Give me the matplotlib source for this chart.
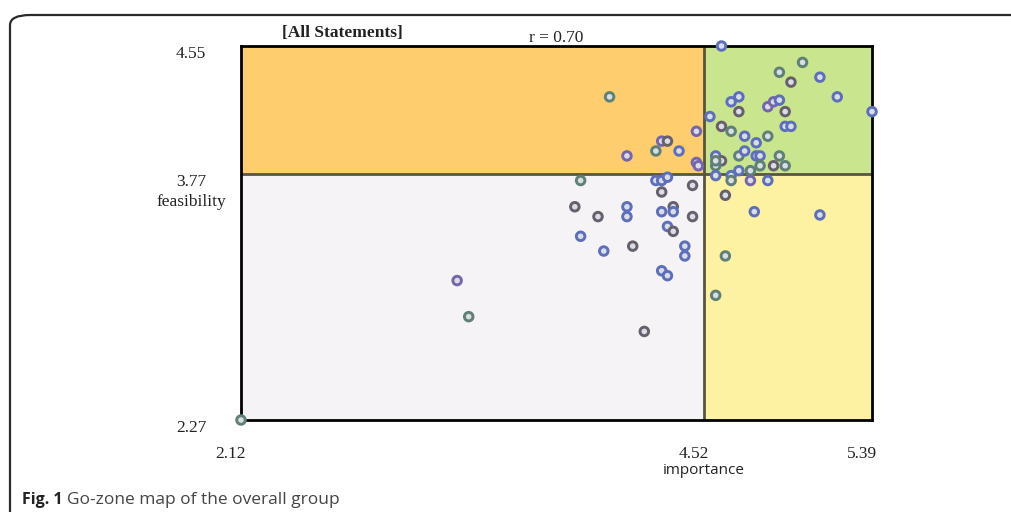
import matplotlib.pyplot as plt
from matplotlib.patches import Rectangle, FancyBboxPatch
from matplotlib.transforms import ScaledTranslation, blended_transform_factory

# axis bounds and means
x_min, x_mean, x_max = 2.12, 4.52, 5.39
y_min, y_mean, y_max = 2.27, 3.77, 4.55

importance = [4.61, 5.03, 4.91, 5.12, 4.97, 5.21, 4.70, 4.66, 4.70, 4.85,
              4.88, 4.91, 4.94, 5.39, 4.55, 4.48, 4.61, 4.66, 4.73, 4.94,
              4.97, 4.85, 4.79, 4.03, 4.12, 4.27, 4.30, 4.33, 4.39, 4.48,
              4.49, 4.58, 4.61, 4.58, 4.70, 4.73, 4.79, 4.81, 4.91, 4.81,
              4.88, 4.94, 4.70, 4.76, 4.58, 4.66, 4.66, 4.76, 4.85, 3.88,
              4.27, 4.30, 4.33, 4.30, 4.46, 4.63, 3.85, 3.97, 4.12, 4.12,
              4.30, 4.36, 4.36, 4.46, 4.33, 4.36, 3.88, 4.00, 4.15, 4.42,
              4.42, 4.30, 4.33, 3.24, 3.30, 4.21, 4.78, 4.63, 4.58, 5.12,
              2.12, 4.58]
feasibility = [4.55, 4.45, 4.39, 4.36, 4.33, 4.24, 4.24, 4.21, 4.15, 4.18,
               4.21, 4.22, 4.15, 4.15, 4.12, 4.03, 4.06, 4.03, 4.00, 4.06,
               4.06, 4.00, 3.96, 4.24, 3.88, 3.91, 3.97, 3.97, 3.91, 3.84,
               3.82, 3.88, 3.85, 3.82, 3.88, 3.91, 3.88, 3.88, 3.88, 3.82,
               3.82, 3.82, 3.79, 3.79, 3.76, 3.76, 3.73, 3.73, 3.73, 3.73,
               3.73, 3.73, 3.75, 3.66, 3.70, 3.64, 3.57, 3.51, 3.57, 3.51,
               3.54, 3.57, 3.54, 3.51, 3.45, 3.42, 3.39, 3.30, 3.33, 3.33,
               3.27, 3.18, 3.15, 3.12, 2.90, 2.81, 3.54, 3.27, 3.03, 3.52,
               2.27, 3.85]
group = ['B', 'G', 'G', 'B', 'D', 'B', 'B', 'B', 'D', 'P',
         'P', 'B', 'D', 'B', 'B', 'P', 'D', 'G', 'B', 'B',
         'B', 'G', 'B', 'G', 'P', 'G', 'P', 'D', 'B', 'P',
         'P', 'B', 'D', 'G', 'G', 'B', 'B', 'B', 'G', 'G',
         'D', 'G', 'B', 'G', 'B', 'B', 'G', 'P', 'B', 'G',
         'B', 'B', 'B', 'D', 'D', 'D', 'D', 'D', 'B', 'B',
         'B', 'D', 'B', 'D', 'B', 'D', 'B', 'B', 'D', 'B',
         'B', 'B', 'B', 'P', 'G', 'D', 'B', 'G', 'G', 'B',
         'G', 'G']

group_colors = {'B': '#5d6fbb', 'G': '#5f8075', 'D': '#67606c', 'P': '#7565ad'}

fig = plt.figure(figsize=(10.12, 5.12), dpi=100)
fig.patch.set_facecolor('white')

# page frame
frame = FancyBboxPatch((10 / 1012, -0.1), 1.2, 1.1 - 15 / 512,
                       boxstyle='round,pad=0,rounding_size=0.02',
                       transform=fig.transFigure, fill=False,
                       edgecolor='#2b2b2b', linewidth=1.6)
fig.patches.append(frame)

ax = fig.add_axes([241 / 1012, 1 - 420 / 512, 631 / 1012, 374 / 512])
ax.set_xlim(x_min, x_max)
ax.set_ylim(y_min, y_max)

# quadrants
ax.add_patch(Rectangle((x_min, y_mean), x_mean - x_min, y_max - y_mean, color='#fdcd6e', zorder=0))
ax.add_patch(Rectangle((x_mean, y_mean), x_max - x_mean, y_max - y_mean, color='#c9e68e', zorder=0))
ax.add_patch(Rectangle((x_min, y_min), x_mean - x_min, y_mean - y_min, color='#f5f3f5', zorder=0))
ax.add_patch(Rectangle((x_mean, y_min), x_max - x_mean, y_mean - y_min, color='#fdf1a2', zorder=0))
ax.axvline(x_mean, color='#57553f', lw=2, zorder=1)
ax.axhline(y_mean, color='#57553f', lw=2, zorder=1)

for s in ax.spines.values():
    s.set_linewidth(2)
    s.set_color('black')
    s.set_zorder(2)

ax.scatter(importance, feasibility, s=38, facecolors='#d9dde6',
           edgecolors=[group_colors[g] for g in group], linewidths=2.1,
           zorder=3, clip_on=False)

ax.set_xticks([])
ax.set_yticks([])

serif = 'Liberation Serif'
dpi = fig.dpi
# y labels
ytr = blended_transform_factory(ax.transAxes, ax.transData)
for v in [y_max, y_mean, y_min]:
    ax.text(-0.055, v, f'{v:.2f}', transform=ytr + ScaledTranslation(0, -8 / dpi, fig.dpi_scale_trans),
            ha='right', va='center', fontsize=12.5, family=serif, color='#222222')
ax.text(-0.078, y_mean, 'feasibility', transform=ytr + ScaledTranslation(0, -28 / dpi, fig.dpi_scale_trans),
        ha='center', va='center', fontsize=12.5, family=serif, color='#222222')

# x labels
xtr = blended_transform_factory(ax.transData, ax.transAxes)
for v in [x_min, x_mean, x_max]:
    ax.text(v, -0.09, f'{v:.2f}', transform=xtr + ScaledTranslation(5 / dpi, 0, fig.dpi_scale_trans),
            ha='right', va='center', fontsize=12.5, family=serif, color='#222222')
ax.text(x_mean, -0.135, 'importance', transform=xtr, ha='center', va='center',
        fontsize=11, family='Open Sans', color='#222222')

fig.text(342 / 1012, 1 - 33 / 512, '[All Statements]', ha='center', va='center',
         fontsize=12.5, family=serif, fontweight='bold', color='#222222')
fig.text(556 / 1012, 1 - 38 / 512, 'r = 0.70', ha='center', va='center',
         fontsize=12.5, family=serif, color='#222222')

fig.text(22 / 1012, 1 - 500 / 512, 'Fig. 1', ha='left', va='center',
         fontsize=11.5, family='Open Sans', fontweight='bold', color='#222222')
fig.text(67 / 1012, 1 - 500 / 512, 'Go-zone map of the overall group', ha='left', va='center',
         fontsize=12.5, family='Open Sans', color='#444444')

fig.savefig('out.png', dpi=100)
